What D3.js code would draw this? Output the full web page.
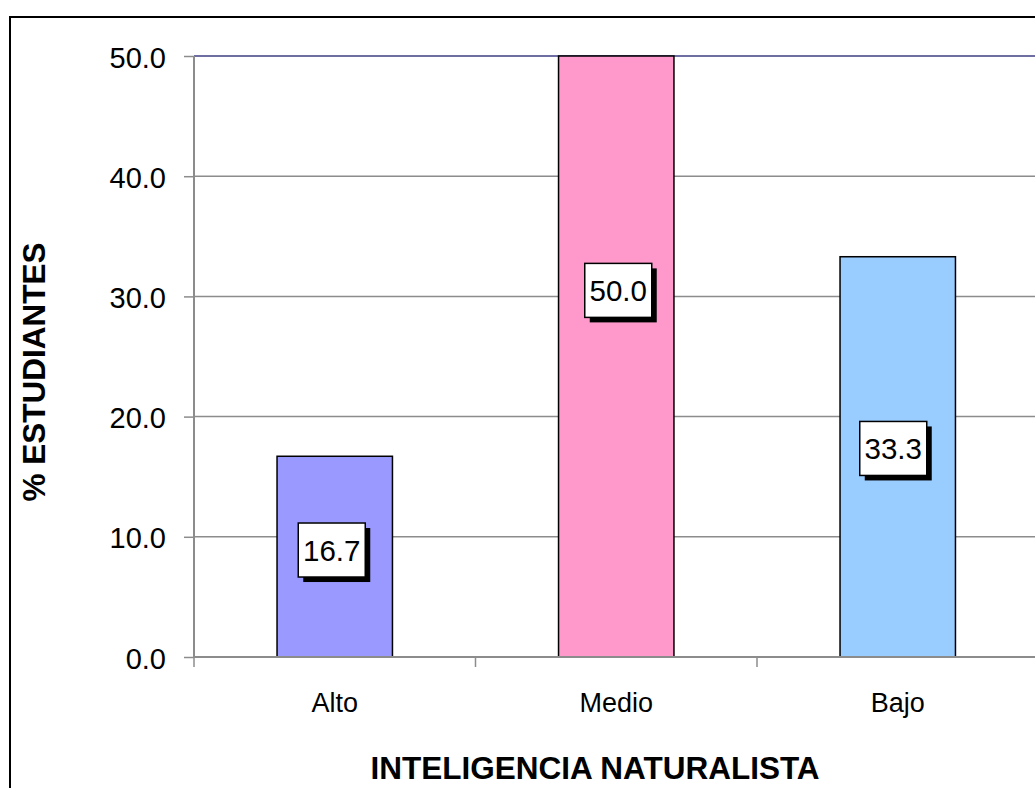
<!DOCTYPE html>
<html>
<head>
<meta charset="utf-8">
<script src="https://cdn.jsdelivr.net/npm/d3@7"></script>
<style>
  html, body { margin: 0; padding: 0; background: #fff; }
  svg { display: block; font-family: "Liberation Sans", Arial, sans-serif; }
</style>
</head>
<body>
<svg id="chart" width="1035" height="788"></svg>
<script>
// ---- data ----
const categories = ["Alto", "Medio", "Bajo"];
const values = [16.7, 50.0, 33.3];
const barColors = ["#9999ff", "#ff99cc", "#99ccff"];
const yTicks = [0, 10, 20, 30, 40, 50];
const xTitle = "INTELIGENCIA NATURALISTA";
const yTitle = "% ESTUDIANTES";

// ---- layout ----
const svg = d3.select("#chart");
const plot = { left: 194, right: 1038.5, top: 56, bottom: 657 };
// manual label placement (data units, x shift in px), as in the original
const labelAnchor = [8.9, 30.5, 17.35];
const labelShift = [-3, 2, -4.5];

const x = d3.scaleBand().domain(categories).range([plot.left, plot.right]).padding(0);
const y = d3.scaleLinear().domain([0, 50]).range([plot.bottom, plot.top]);
const barW = x.bandwidth() * 0.41;

// outer chart border
svg.append("rect")
  .attr("x", 10).attr("y", 17).attr("width", 1200).attr("height", 900)
  .attr("fill", "none").attr("stroke", "#000").attr("stroke-width", 2);

// gridlines
svg.append("g").selectAll("line")
  .data(yTicks.filter(d => d > 0 && d < 50))
  .join("line")
  .attr("x1", plot.left).attr("x2", 1035)
  .attr("y1", d => y(d)).attr("y2", d => y(d))
  .attr("stroke", "#8c8c8c").attr("stroke-width", 1.5);

// top border line of plot area
svg.append("line")
  .attr("x1", plot.left).attr("x2", 1035)
  .attr("y1", y(50)).attr("y2", y(50))
  .attr("stroke", "#6e6ea3").attr("stroke-width", 2);

// y axis
const yAxis = d3.axisLeft(y).tickValues(yTicks).tickSize(10).tickFormat(d3.format(".1f"));
const gy = svg.append("g").attr("transform", `translate(${plot.left},0)`).call(yAxis);
gy.select(".domain").attr("stroke", "#8c8c8c").attr("stroke-width", 2)
  .attr("d", `M0,${plot.top}V${plot.bottom}`);
gy.selectAll(".tick line").attr("stroke", "#8c8c8c").attr("stroke-width", 1.5);
gy.selectAll(".tick text")
  .attr("x", -28).attr("dy", null).attr("y", 11)
  .attr("font-size", 29).attr("fill", "#000")
  .attr("font-family", "Liberation Sans, Arial, sans-serif");

// bars
svg.append("g").selectAll("rect")
  .data(values)
  .join("rect")
  .attr("x", (d, i) => x(categories[i]) + x.bandwidth() / 2 - barW / 2)
  .attr("y", d => y(d))
  .attr("width", barW)
  .attr("height", d => y(0) - y(d))
  .attr("fill", (d, i) => barColors[i])
  .attr("stroke", "#000").attr("stroke-width", 1.5);

// x axis line and ticks
svg.append("line")
  .attr("x1", plot.left).attr("x2", 1035)
  .attr("y1", y(0)).attr("y2", y(0))
  .attr("stroke", "#8c8c8c").attr("stroke-width", 2);
const bounds = categories.map(c => x(c));
svg.append("g").selectAll("line")
  .data(bounds)
  .join("line")
  .attr("x1", d => d).attr("x2", d => d)
  .attr("y1", y(0)).attr("y2", y(0) + 10)
  .attr("stroke", "#8c8c8c").attr("stroke-width", 1.5);

// category labels
svg.append("g").selectAll("text")
  .data(categories)
  .join("text")
  .attr("x", d => x(d) + x.bandwidth() / 2)
  .attr("y", 712)
  .attr("text-anchor", "middle")
  .attr("font-size", 27)
  .text(d => d);

// data labels (boxes with shadow)
const boxW = 67, boxH = 54;
const lab = svg.append("g").selectAll("g")
  .data(values)
  .join("g")
  .attr("transform", (d, i) => {
    const cx = x(categories[i]) + x.bandwidth() / 2 + labelShift[i];
    const cy = y(labelAnchor[i]);
    return `translate(${cx},${cy})`;
  });
lab.append("rect")
  .attr("x", -boxW / 2 + 5).attr("y", -boxH / 2 + 5)
  .attr("width", boxW).attr("height", boxH)
  .attr("fill", "#000");
lab.append("rect")
  .attr("x", -boxW / 2).attr("y", -boxH / 2)
  .attr("width", boxW).attr("height", boxH)
  .attr("fill", "#fff").attr("stroke", "#000").attr("stroke-width", 1.5);
lab.append("text")
  .attr("x", 0).attr("y", 11)
  .attr("text-anchor", "middle")
  .attr("font-size", 29.5)
  .text(d => d3.format(".1f")(d));

// axis titles
svg.append("text")
  .attr("x", 595).attr("y", 779)
  .attr("text-anchor", "middle")
  .attr("font-size", 31.5).attr("font-weight", "bold")
  .text(xTitle);

svg.append("text")
  .attr("transform", "translate(45,372) rotate(-90)")
  .attr("text-anchor", "middle")
  .attr("font-size", 31.5).attr("font-weight", "bold")
  .text(yTitle);
</script>
</body>
</html>
